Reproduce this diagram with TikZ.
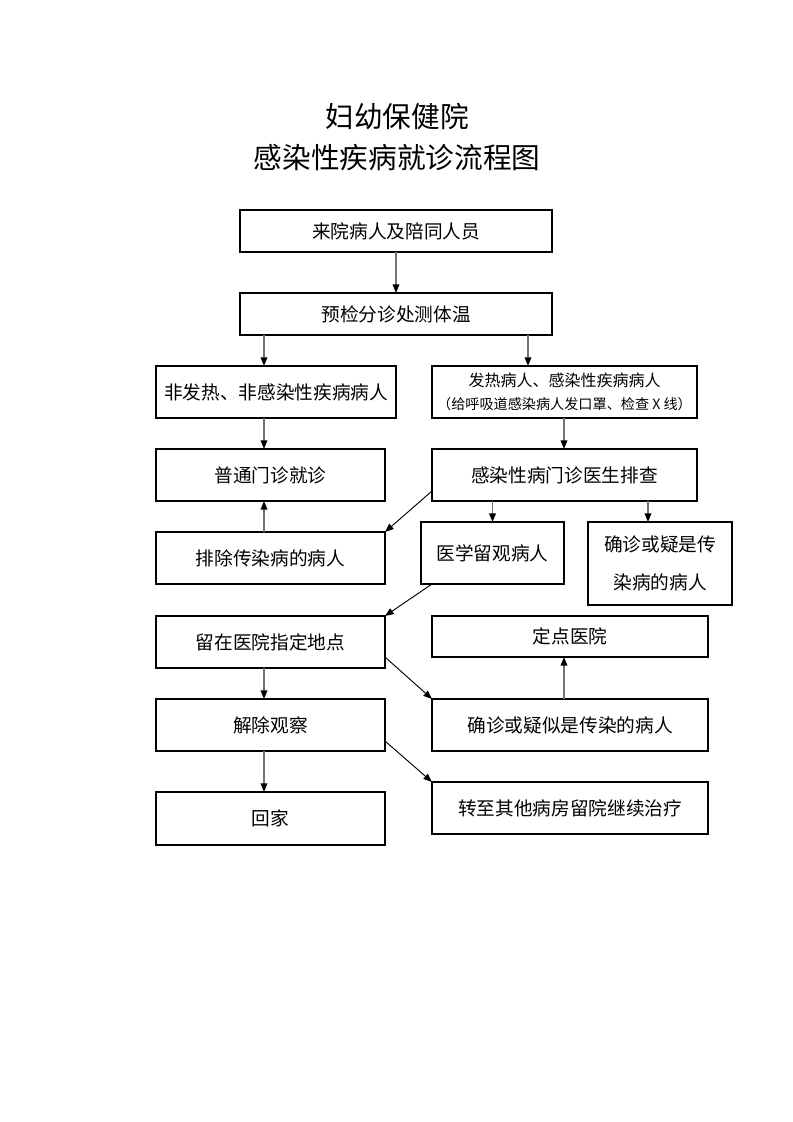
\documentclass[tikz,border=0pt]{standalone}
\usepackage{fontspec}
\setmainfont{Noto Sans CJK SC}
\usetikzlibrary{arrows.meta}
\begin{document}
\begin{tikzpicture}[x=0.75pt,y=-0.75pt,
  box/.style={draw=black, line width=0.9pt, inner sep=0pt, outer sep=0pt, align=center, font=\fontsize{14}{17}\selectfont},
  varr/.style={draw=black!55, line width=1.1pt, -{Triangle[length=6.5pt,width=5pt,color=black]}},
  darr/.style={draw=black, line width=0.7pt, -{Triangle[length=6.5pt,width=5pt]}},
  titletext/.style={font=\fontsize{21.5}{26}\selectfont}]
\useasboundingbox (0,0) rectangle (793,1122);
\node[titletext] (t1) at (397,117) {妇幼保健院};
\node[titletext] (t2) at (397,158) {感染性疾病就诊流程图};

\node[box, minimum width=234pt, minimum height=31.5pt] (A) at (396,231) {来院病人及陪同人员};
\node[box, minimum width=234pt, minimum height=31.5pt] (B) at (396,314) {预检分诊处测体温};
\node[box, minimum width=180pt, minimum height=39pt] (C) at (276,392) {非发热、非感染性疾病病人};
\node[box, minimum width=198.75pt, minimum height=39pt] (D) at (564.5,392) {{\fontsize{12}{14}\selectfont 发热病人、感染性疾病病人}\\[0pt]{\fontsize{10.6}{12}\selectfont （给呼吸道感染病人发口罩、检查 X 线）}};
\node[box, minimum width=171.75pt, minimum height=39pt] (E) at (270.5,475) {普通门诊就诊};
\node[box, minimum width=198.75pt, minimum height=39pt] (F) at (564.5,475) {感染性病门诊医生排查};
\node[box, minimum width=171.75pt, minimum height=39pt] (G) at (270.5,558) {排除传染病的病人};
\node[box, minimum width=107.25pt, minimum height=46.5pt] (H) at (492.5,553) {医学留观病人};
\node[box, minimum width=108pt, minimum height=62.25pt] (I) at (660,563.5) {确诊或疑是传\\[12pt]染病的病人};
\node[box, minimum width=171.75pt, minimum height=39pt] (J) at (270.5,642) {留在医院指定地点};
\node[box, minimum width=207pt, minimum height=30.75pt] (K) at (570,636.5) {定点医院};
\node[box, minimum width=171.75pt, minimum height=39pt] (L) at (270.5,725) {解除观察};
\node[box, minimum width=207pt, minimum height=39pt] (M) at (570,725) {确诊或疑似是传染的病人};
\node[box, minimum width=171.75pt, minimum height=39.75pt] (N) at (270.5,818.5) {回家};
\node[box, minimum width=207pt, minimum height=39pt] (O) at (570,808) {转至其他病房留院继续治疗};

\coordinate (x264) at (264,0);
\coordinate (x528) at (528,0);
\coordinate (x564) at (564,0);
\coordinate (x648) at (648,0);

\draw[varr] (A.south) -- (B.north);
\draw[varr] (B.south -| x264) -- (C.north -| x264);
\draw[varr] (B.south -| x528) -- (C.north -| x528);
\draw[varr] (C.south -| x264) -- (E.north -| x264);
\draw[varr] (D.south -| x564) -- (F.north -| x564);
\draw[varr] (G.north -| x264) -- (E.south -| x264);
\draw[varr] (F.south -| H.north) -- (H.north);
\draw[varr] (F.south -| x648) -- (I.north -| x648);
\draw[varr] (J.south -| x264) -- (L.north -| x264);
\draw[varr] (M.north -| x564) -- (K.south -| x564);
\draw[varr] (L.south -| x264) -- (N.north -| x264);

\draw[darr] ([yshift=7.5pt]F.south west) -- (G.north east);
\draw[darr] ([xshift=8.25pt]H.south west) -- (J.north east);
\draw[darr] ([yshift=8.25pt]J.south east) -- (M.north west);
\draw[darr] ([yshift=7.5pt]L.south east) -- (O.north west);
\end{tikzpicture}
\end{document}
